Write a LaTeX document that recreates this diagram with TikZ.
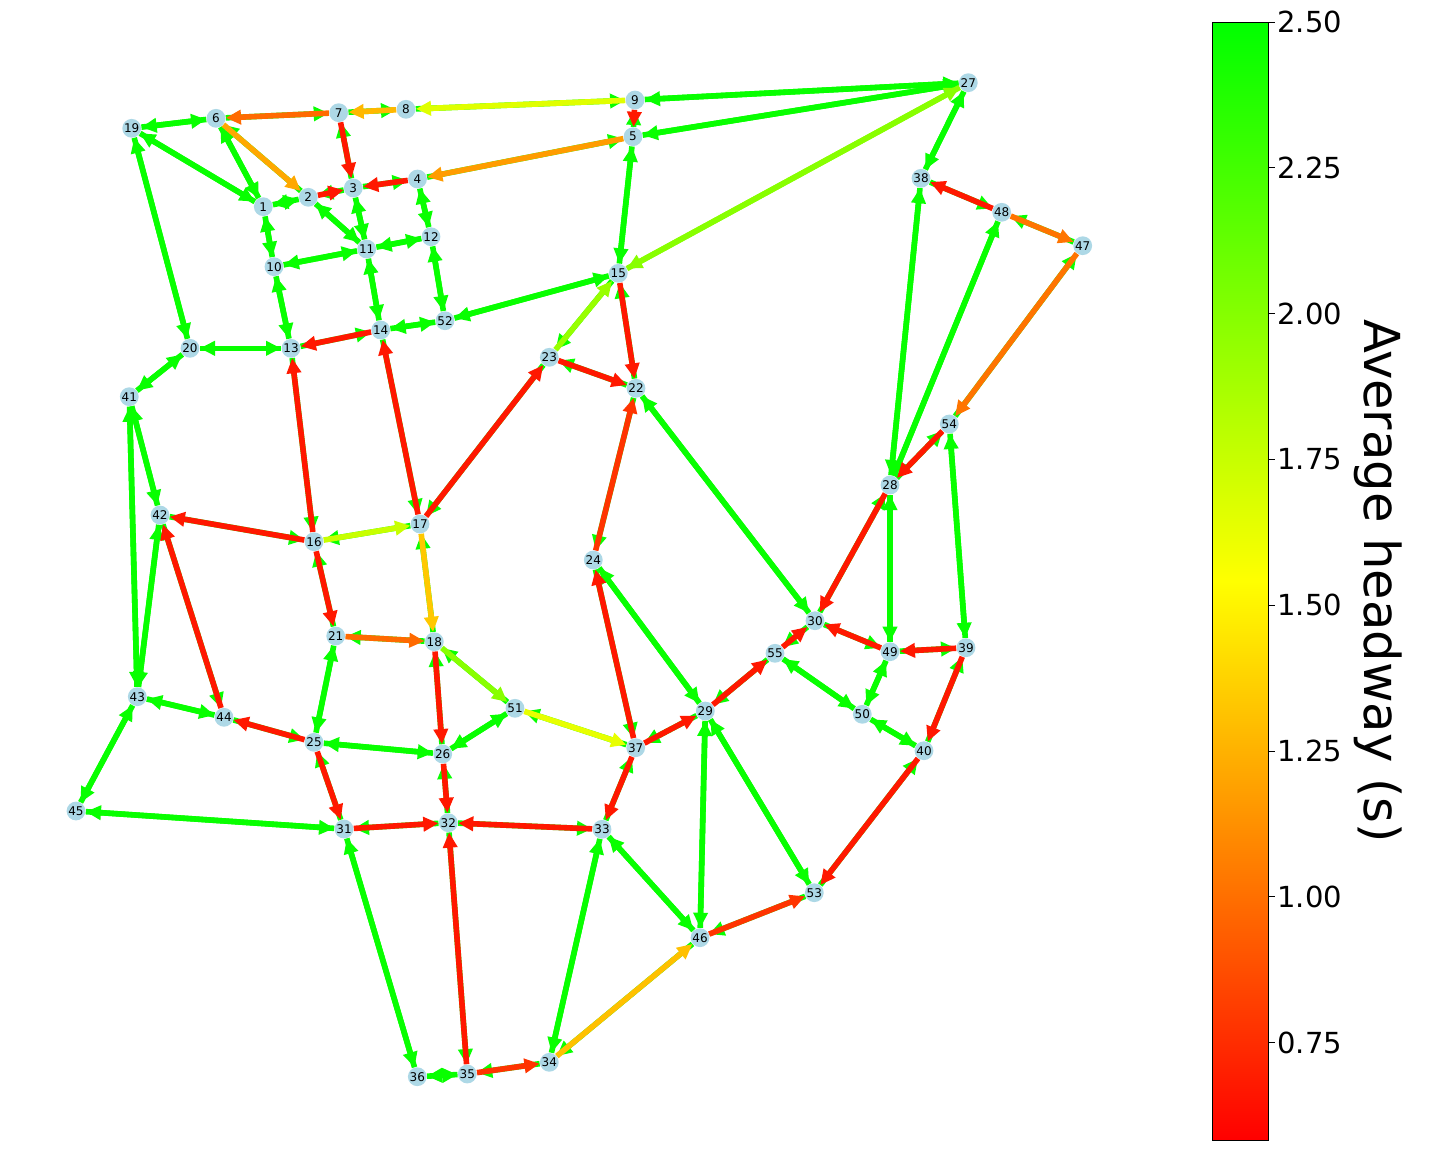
\documentclass[tikz,border=0pt]{standalone}
\usepackage{fontspec}
\setmainfont{DejaVu Sans}
\usetikzlibrary{arrows.meta}
\pgfdeclarelayer{bg}
\pgfsetlayers{bg,main}
\definecolor{nodeblue}{HTML}{ADD8E6}
\definecolor{G}{HTML}{08FF00}
\definecolor{R}{HTML}{FF1800}
\definecolor{Rb}{HTML}{FF3400}
\definecolor{Oa}{HTML}{FF6A00}
\definecolor{Ob}{HTML}{FF7400}
\definecolor{Oc}{HTML}{FF9C00}
\definecolor{Od}{HTML}{FFA800}
\definecolor{Am}{HTML}{FFB800}
\definecolor{Gd}{HTML}{FFC800}
\definecolor{Gda}{HTML}{FFC000}
\definecolor{Ye}{HTML}{E0FF00}
\definecolor{Yf}{HTML}{E8FF00}
\definecolor{YG}{HTML}{C8FF00}
\definecolor{LG}{HTML}{88FF00}
\definecolor{LGb}{HTML}{98FF00}
\definecolor{cbR}{RGB}{255,0,0}
\definecolor{cbY}{RGB}{255,255,0}
\definecolor{cbG}{RGB}{0,255,0}
\pgfdeclareverticalshading{hwshade}{100bp}{color(0bp)=(cbR); color(25bp)=(cbR); color(50bp)=(cbY); color(75bp)=(cbG); color(100bp)=(cbG)}
\newcommand\nd[3]{\node[nd] (n#1) at (#2,#3) {#1};}
\newcommand\ee[3]{\draw[ed,G] (n#2) -- (n#1); \draw[ed,#3] (n#1) -- (n#2);}
\newcommand\eb[4]{\draw[ed,#4] (n#2) -- (n#1); \draw[ed,#3] (n#1) -- (n#2);}
\begin{document}
\begin{tikzpicture}[x=0.5pt,y=-0.5pt,
  nd/.style={circle,fill=nodeblue,inner sep=0pt,minimum size=9.4pt,font=\fontsize{6}{6.5}\selectfont,text=black},
  ed/.style={line width=2.8pt,-{Triangle[length=7.6pt,width=7pt]}},
  tk/.style={anchor=west,inner sep=0pt,font=\fontsize{14.5}{16}\selectfont}]
\useasboundingbox (0,0) rectangle (1440,1152);
% nodes
\nd{1}{263.3}{206.7}
\nd{2}{308.3}{197.3}
\nd{3}{353.3}{188}
\nd{4}{417.5}{179}
\nd{5}{633}{136.7}
\nd{6}{216}{118.3}
\nd{7}{338.7}{112.7}
\nd{8}{406}{109.3}
\nd{9}{635}{100}
\nd{10}{274}{266.7}
\nd{11}{366.7}{249}
\nd{12}{431}{236.7}
\nd{13}{291}{348.3}
\nd{14}{380.7}{330}
\nd{15}{618.3}{273.3}
\nd{16}{314}{541.7}
\nd{17}{420}{524}
\nd{18}{434.3}{641.7}
\nd{19}{131.7}{128.3}
\nd{20}{190}{348.3}
\nd{21}{335.7}{636}
\nd{22}{636}{388.3}
\nd{23}{549.3}{357.3}
\nd{24}{593.3}{560}
\nd{25}{314}{742.3}
\nd{26}{442.7}{754}
\nd{27}{968.3}{82.7}
\nd{28}{890}{485}
\nd{29}{705.3}{711}
\nd{30}{815}{620.7}
\nd{31}{344}{829}
\nd{32}{448.3}{822.7}
\nd{33}{602}{829.3}
\nd{34}{549.3}{1062.3}
\nd{35}{467.3}{1074}
\nd{36}{417.3}{1076.7}
\nd{37}{635.7}{747.7}
\nd{38}{921}{178.3}
\nd{39}{966}{647.7}
\nd{40}{924}{750.7}
\nd{41}{129.3}{396.7}
\nd{42}{160}{515}
\nd{43}{137.3}{696.7}
\nd{44}{224}{717.3}
\nd{45}{76}{811}
\nd{46}{700}{937.7}
\nd{47}{1082.7}{245.7}
\nd{48}{1001.7}{212.3}
\nd{49}{890}{651.7}
\nd{50}{862.3}{714.3}
\nd{51}{515}{708.3}
\nd{52}{445}{320.7}
\nd{53}{814.3}{892.7}
\nd{54}{949.3}{424}
\nd{55}{775}{653.3}
% edges
\begin{pgfonlayer}{bg}
% both green
\ee{19}{6}{G} \ee{9}{27}{G} \ee{5}{27}{G} \ee{2}{1}{G} \ee{1}{6}{G}
\ee{1}{19}{G} \ee{1}{10}{G} \ee{2}{11}{G} \ee{3}{11}{G} \ee{4}{12}{G}
\ee{11}{12}{G} \ee{10}{11}{G} \ee{10}{13}{G} \ee{11}{14}{G} \ee{12}{52}{G}
\ee{52}{14}{G} \ee{52}{15}{G} \ee{13}{20}{G} \ee{19}{20}{G} \ee{20}{41}{G}
\ee{5}{15}{G} \ee{27}{38}{G} \ee{48}{28}{G} \ee{38}{28}{G} \ee{54}{39}{G}
\ee{28}{49}{G} \ee{22}{30}{G} \ee{42}{41}{G} \ee{41}{43}{G} \ee{42}{43}{G}
\ee{43}{44}{G} \ee{43}{45}{G} \ee{45}{31}{G} \ee{21}{25}{G} \ee{25}{26}{G}
\ee{51}{26}{G} \ee{31}{36}{G} \ee{36}{35}{G} \ee{34}{33}{G} \ee{33}{46}{G}
\ee{24}{29}{G} \ee{29}{46}{G} \ee{29}{53}{G} \ee{55}{50}{G} \ee{49}{50}{G}
\ee{50}{40}{G}
% coloured direction on top, reverse green
\ee{7}{6}{Oa} \ee{8}{7}{Am} \ee{9}{8}{Ye} \ee{9}{5}{R} \ee{5}{4}{Oc}
\ee{4}{3}{R} \ee{2}{3}{R} \ee{6}{2}{Od} \ee{7}{3}{R} \ee{14}{13}{R}
\ee{48}{38}{R} \ee{48}{47}{Ob} \ee{47}{54}{Ob} \ee{54}{28}{R} \ee{28}{30}{R}
\ee{15}{22}{R} \ee{23}{22}{R} \ee{17}{23}{R} \ee{24}{22}{Rb} \ee{17}{14}{R}
\ee{16}{13}{R} \ee{16}{17}{YG} \ee{16}{42}{R} \ee{44}{42}{R} \ee{25}{44}{R}
\ee{16}{21}{R} \ee{17}{18}{Gd} \ee{21}{18}{Oa} \ee{18}{26}{R} \ee{18}{51}{LG}
\ee{51}{37}{Yf} \ee{25}{31}{R} \ee{26}{32}{R} \ee{31}{32}{R} \ee{33}{32}{R}
\ee{35}{32}{R} \ee{35}{34}{Rb} \ee{34}{46}{Gda} \ee{37}{33}{R} \ee{37}{24}{R}
\ee{37}{29}{R} \ee{46}{53}{Rb} \ee{40}{53}{R} \ee{39}{40}{R} \ee{39}{49}{R}
\ee{49}{30}{R} \ee{55}{30}{R} \ee{29}{55}{R} \ee{23}{15}{LGb}
\eb{27}{15}{LG}{LG}
\end{pgfonlayer}
% colour bar
\shade[shading=hwshade] (1212,22) rectangle (1268,1140);
\draw[line width=0.4pt] (1212,22) rectangle (1268,1140);
\foreach \v/\y in {2.50/22,2.25/167.8,2.00/313.6,1.75/459.4,1.50/605.2,1.25/751,1.00/896.8,0.75/1042.6}{
  \draw[line width=0.5pt] (1268,\y) -- (1275,\y);
  \node[tk] at (1277,\y) {\v};
}
\node[rotate=-90,inner sep=0pt,font=\fontsize{24.8}{28}\selectfont] (lab) at (1378,581) {Average headway (s)};
\end{tikzpicture}
\end{document}
